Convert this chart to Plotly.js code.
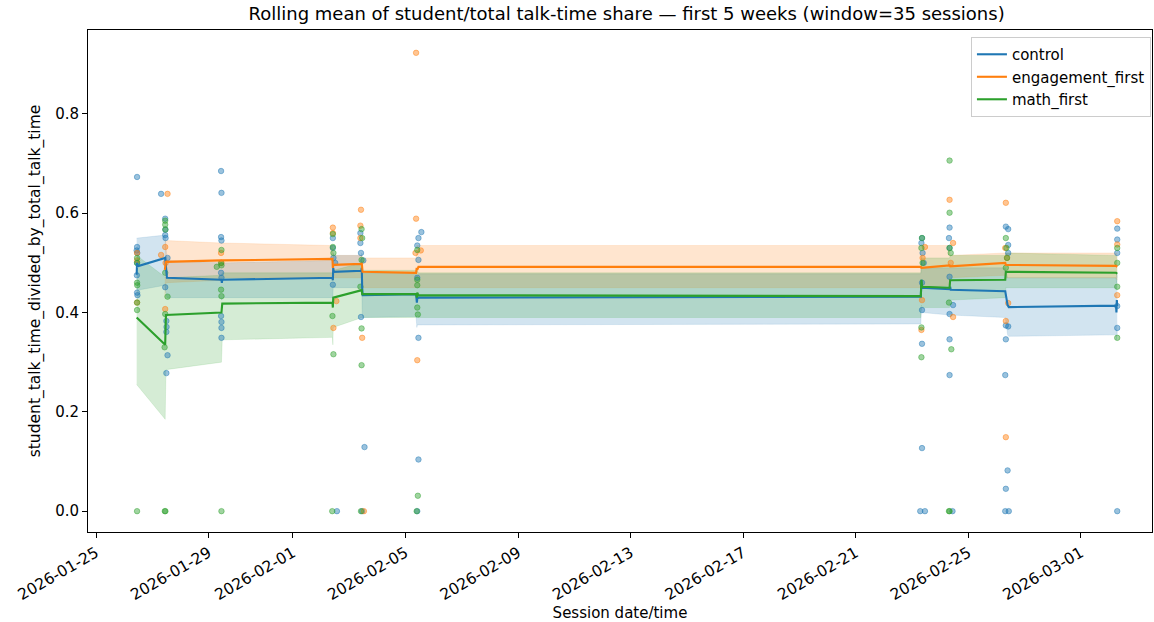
<!DOCTYPE html>
<html>
<head>
<meta charset="utf-8">
<script src="https://cdn.plot.ly/plotly-3.0.1.min.js"></script>
<style>html,body{margin:0;padding:0;background:#fff;}#chart{width:1154px;height:622px;}</style>
</head>
<body>
<div id="chart"></div>
<script>
// ---------------- data ----------------
const groups = ['control', 'engagement_first', 'math_first'];
const colors = ['#1f77b4', '#ff7f0e', '#2ca02c'];
const bandColors = ['rgba(31,119,180,0.2)', 'rgba(255,127,14,0.2)', 'rgba(44,160,44,0.2)'];
const pointColors = ['rgba(31,119,180,0.45)', 'rgba(255,127,14,0.45)', 'rgba(44,160,44,0.45)'];

const xTickVals = ['2026-01-25','2026-01-29','2026-02-01','2026-02-05','2026-02-09','2026-02-13','2026-02-17','2026-02-21','2026-02-25','2026-03-01'];
const yTickVals = [0.0, 0.2, 0.4, 0.6, 0.8];

// rolling mean (window=35) + band, control
const ctrlLineT = ['2026-01-26 10:40','2026-01-26 11:00','2026-01-26 11:20','2026-01-27 11:00','2026-01-27 11:30','2026-01-27 12:00','2026-01-27 12:30','2026-01-29 11:00','2026-01-29 11:20','2026-01-29 11:40','2026-02-02 09:40','2026-02-02 10:00','2026-02-02 10:20','2026-02-02 10:50','2026-02-03 10:20','2026-02-03 10:40','2026-02-03 11:00','2026-02-03 11:30','2026-02-05 09:00','2026-02-05 09:40','2026-02-05 10:00','2026-02-05 11:00','2026-02-23 07:30','2026-02-23 08:00','2026-02-23 08:30','2026-02-24 08:00','2026-02-24 08:30','2026-02-24 09:00','2026-02-26 07:30','2026-02-26 08:30','2026-02-26 09:30','2026-02-26 10:30','2026-03-02 06:00','2026-03-02 06:20','2026-03-02 06:40','2026-03-02 07:00'];
const ctrlMean = [0.476,0.500,0.493,0.510,0.490,0.472,0.470,0.466,0.460,0.466,0.470,0.465,0.490,0.482,0.484,0.490,0.450,0.435,0.437,0.420,0.428,0.430,0.432,0.466,0.450,0.447,0.452,0.446,0.443,0.430,0.415,0.411,0.414,0.400,0.425,0.413];
const ctrlLo   = [0.445,0.450,0.445,0.455,0.440,0.430,0.430,0.430,0.425,0.430,0.430,0.430,0.455,0.450,0.450,0.455,0.400,0.390,0.392,0.370,0.375,0.375,0.377,0.410,0.400,0.395,0.400,0.395,0.390,0.375,0.355,0.352,0.355,0.345,0.365,0.355];
const ctrlHi   = [0.550,0.550,0.550,0.556,0.530,0.505,0.505,0.500,0.500,0.500,0.505,0.500,0.520,0.515,0.515,0.520,0.490,0.480,0.480,0.470,0.475,0.478,0.478,0.510,0.490,0.490,0.490,0.490,0.490,0.480,0.470,0.470,0.470,0.460,0.480,0.470];

// engagement_first
const engLineT = ['2026-01-27 10:40','2026-01-27 11:00','2026-01-27 11:40','2026-01-29 11:00','2026-01-29 11:40','2026-02-02 09:40','2026-02-02 10:00','2026-02-02 10:30','2026-02-03 10:20','2026-02-03 10:40','2026-02-03 11:20','2026-02-05 09:00','2026-02-05 09:30','2026-02-05 10:00','2026-02-05 11:00','2026-02-23 07:30','2026-02-23 08:00','2026-02-24 08:00','2026-02-24 08:30','2026-02-26 07:30','2026-02-26 08:00','2026-03-02 06:00','2026-03-02 07:00'];
const engMean = [0.486,0.500,0.502,0.505,0.505,0.508,0.490,0.496,0.498,0.500,0.482,0.480,0.490,0.486,0.492,0.492,0.490,0.495,0.493,0.500,0.496,0.494,0.492];
const engLo   = [0.430,0.455,0.460,0.465,0.470,0.470,0.465,0.470,0.470,0.470,0.450,0.450,0.450,0.450,0.450,0.450,0.450,0.455,0.470,0.475,0.470,0.470,0.465];
const engHi   = [0.545,0.545,0.545,0.540,0.540,0.535,0.515,0.515,0.515,0.515,0.510,0.510,0.535,0.535,0.535,0.535,0.535,0.535,0.515,0.520,0.520,0.520,0.520];

// math_first
const mathLineT = ['2026-01-26 10:40','2026-01-27 11:00','2026-01-27 11:20','2026-01-27 11:40','2026-01-29 11:00','2026-01-29 11:20','2026-01-29 11:40','2026-02-02 09:40','2026-02-02 10:00','2026-02-02 10:20','2026-02-03 10:40','2026-02-03 11:00','2026-02-05 09:00','2026-02-05 09:40','2026-02-05 10:00','2026-02-05 11:00','2026-02-23 07:30','2026-02-23 08:00','2026-02-23 08:30','2026-02-24 08:00','2026-02-24 08:30','2026-02-26 07:30','2026-02-26 08:00','2026-03-02 06:00','2026-03-02 07:00'];
const mathMean = [0.390,0.335,0.370,0.395,0.400,0.410,0.418,0.420,0.410,0.430,0.445,0.437,0.437,0.430,0.440,0.435,0.433,0.466,0.452,0.450,0.465,0.466,0.482,0.480,0.478];
const mathLo   = [0.255,0.185,0.240,0.285,0.300,0.330,0.345,0.350,0.335,0.370,0.390,0.390,0.390,0.390,0.395,0.390,0.390,0.415,0.410,0.410,0.425,0.430,0.450,0.450,0.445];
const mathHi   = [0.515,0.470,0.470,0.470,0.475,0.480,0.480,0.480,0.475,0.485,0.500,0.485,0.485,0.480,0.485,0.480,0.480,0.515,0.510,0.510,0.515,0.515,0.520,0.515,0.515];

// individual sessions
const ctrlPtT = ['2026-01-26 11:00','2026-01-26 11:00','2026-01-26 10:40','2026-01-26 11:10','2026-01-26 11:00','2026-01-26 10:50','2026-01-26 11:00','2026-01-26 11:20',
 '2026-01-27 07:30','2026-01-27 11:00','2026-01-27 11:10','2026-01-27 11:00','2026-01-27 11:20','2026-01-27 13:00','2026-01-27 11:00','2026-01-27 12:00','2026-01-27 12:10','2026-01-27 12:00','2026-01-27 13:00','2026-01-27 12:00',
 '2026-01-29 10:40','2026-01-29 11:00','2026-01-29 10:40','2026-01-29 11:00','2026-01-29 10:40','2026-01-29 11:00','2026-01-29 10:40','2026-01-29 11:00','2026-01-29 11:00','2026-01-29 11:00',
 '2026-02-02 10:00','2026-02-02 10:00','2026-02-02 10:30','2026-02-02 12:00','2026-02-02 10:00','2026-02-02 13:30',
 '2026-02-03 09:30','2026-02-03 09:30','2026-02-03 10:00','2026-02-03 12:00','2026-02-03 10:00','2026-02-03 13:00','2026-02-03 11:00',
 '2026-02-05 13:30','2026-02-05 11:00','2026-02-05 10:00','2026-02-05 11:00','2026-02-05 10:00','2026-02-05 11:00','2026-02-05 11:00','2026-02-05 10:00',
 '2026-02-23 08:30','2026-02-23 08:00','2026-02-23 09:00','2026-02-23 10:00','2026-02-23 08:30','2026-02-23 08:30','2026-02-23 08:30','2026-02-23 08:30','2026-02-23 07:00','2026-02-23 11:00',
 '2026-02-24 08:00','2026-02-24 07:30','2026-02-24 08:00','2026-02-24 08:00','2026-02-24 11:00','2026-02-24 08:00','2026-02-24 08:00','2026-02-24 08:00','2026-02-24 10:30',
 '2026-02-26 08:00','2026-02-26 10:00','2026-02-26 10:00','2026-02-26 10:00','2026-02-26 08:00','2026-02-26 10:00','2026-02-26 08:00','2026-02-26 07:30','2026-02-26 09:30','2026-02-26 08:00','2026-02-26 07:30','2026-02-26 10:30',
 '2026-03-02 07:00','2026-03-02 07:00','2026-03-02 07:00','2026-03-02 07:00','2026-03-02 07:00','2026-03-02 07:00'];
const ctrlPtV = [0.673,0.532,0.525,0.520,0.500,0.475,0.440,0.435,
 0.639,0.589,0.567,0.556,0.550,0.510,0.451,0.383,0.371,0.361,0.314,0.278,
 0.685,0.641,0.552,0.545,0.480,0.470,0.393,0.381,0.369,0.349,
 0.550,0.530,0.510,0.500,0.456,0.000,
 0.560,0.540,0.520,0.505,0.391,0.129,0.000,
 0.562,0.550,0.535,0.506,0.470,0.349,0.104,0.000,
 0.550,0.540,0.520,0.500,0.460,0.405,0.337,0.127,0.000,0.000,
 0.571,0.550,0.530,0.472,0.415,0.397,0.346,0.274,0.000,
 0.573,0.568,0.536,0.520,0.374,0.372,0.346,0.274,0.082,0.045,0.000,0.000,
 0.569,0.547,0.520,0.413,0.369,0.000];

const engPtT = ['2026-01-26 11:00','2026-01-26 11:00','2026-01-26 11:00',
 '2026-01-27 13:00','2026-01-27 11:00','2026-01-27 07:30','2026-01-27 11:00','2026-01-27 11:20',
 '2026-01-29 10:40','2026-01-29 11:00',
 '2026-02-02 10:00','2026-02-02 10:00','2026-02-02 13:00','2026-02-02 10:30',
 '2026-02-03 10:00','2026-02-03 09:30','2026-02-03 09:30','2026-02-03 11:00','2026-02-03 12:30',
 '2026-02-05 09:00','2026-02-05 09:00','2026-02-05 13:00','2026-02-05 08:30','2026-02-05 10:00',
 '2026-02-23 11:00','2026-02-23 08:30','2026-02-23 08:00','2026-02-23 09:00',
 '2026-02-24 08:00','2026-02-24 11:00','2026-02-24 11:00','2026-02-24 09:00',
 '2026-02-26 08:00','2026-02-26 07:30','2026-02-26 09:00','2026-02-26 10:00','2026-02-26 08:00','2026-02-26 08:00',
 '2026-03-02 07:00','2026-03-02 07:00','2026-03-02 07:00'];
const engPtV = [0.520,0.505,0.420,
 0.639,0.532,0.516,0.407,0.500,
 0.520,0.500,
 0.571,0.560,0.423,0.369,
 0.607,0.575,0.550,0.349,0.000,
 0.923,0.589,0.525,0.520,0.304,
 0.532,0.425,0.365,0.510,
 0.627,0.540,0.391,0.500,
 0.621,0.530,0.510,0.419,0.383,0.149,
 0.584,0.537,0.435];

const mathPtT = ['2026-01-26 11:00','2026-01-26 11:00','2026-01-26 11:00','2026-01-26 11:10','2026-01-26 11:00','2026-01-26 11:00','2026-01-26 11:00',
 '2026-01-27 11:00','2026-01-27 11:00','2026-01-27 11:10','2026-01-27 11:00','2026-01-27 13:00','2026-01-27 11:00','2026-01-27 10:30','2026-01-27 10:40','2026-01-27 11:10',
 '2026-01-29 11:00','2026-01-29 10:40','2026-01-29 07:00','2026-01-29 11:00','2026-01-29 10:40','2026-01-29 11:00','2026-01-29 11:00',
 '2026-02-02 10:00','2026-02-02 10:00','2026-02-02 10:30','2026-02-02 09:40','2026-02-02 10:30','2026-02-02 09:30',
 '2026-02-03 10:30','2026-02-03 11:00','2026-02-03 10:30','2026-02-03 09:30','2026-02-03 10:30','2026-02-03 10:30','2026-02-03 10:00',
 '2026-02-05 10:00','2026-02-05 10:00','2026-02-05 10:00','2026-02-05 10:00','2026-02-05 10:30','2026-02-05 10:30','2026-02-05 09:30',
 '2026-02-23 08:30','2026-02-23 08:00','2026-02-23 09:00','2026-02-23 08:00','2026-02-23 08:00',
 '2026-02-24 08:00','2026-02-24 08:00','2026-02-24 08:00','2026-02-24 09:00','2026-02-24 07:30','2026-02-24 09:30','2026-02-24 07:30','2026-02-24 08:00',
 '2026-02-26 08:00','2026-02-26 08:30','2026-02-26 09:00','2026-02-26 08:00',
 '2026-03-02 07:00','2026-03-02 07:00','2026-03-02 07:00','2026-03-02 07:00'];
const mathPtV = [0.510,0.500,0.460,0.455,0.420,0.405,0.000,
 0.585,0.577,0.567,0.480,0.432,0.397,0.330,0.000,0.000,
 0.526,0.500,0.492,0.495,0.446,0.433,0.000,
 0.558,0.532,0.520,0.393,0.316,0.000,
 0.568,0.550,0.506,0.452,0.368,0.294,0.000,
 0.526,0.466,0.455,0.410,0.396,0.031,0.000,
 0.550,0.530,0.500,0.370,0.310,
 0.706,0.601,0.530,0.520,0.420,0.326,0.000,0.000,
 0.550,0.530,0.510,0.490,
 0.530,0.500,0.452,0.349];

// ---------------- traces ----------------
const lineT = [ctrlLineT, engLineT, mathLineT];
const means = [ctrlMean, engMean, mathMean];
const los = [ctrlLo, engLo, mathLo];
const his = [ctrlHi, engHi, mathHi];
const ptT = [ctrlPtT, engPtT, mathPtT];
const ptV = [ctrlPtV, engPtV, mathPtV];

const traces = [];
for (let i = 0; i < 3; i++) {
  traces.push({x: lineT[i], y: los[i], type: 'scatter', mode: 'lines',
    line: {width: 0.6, color: bandColors[i]}, showlegend: false, hoverinfo: 'skip'});
  traces.push({x: lineT[i], y: his[i], type: 'scatter', mode: 'lines', fill: 'tonexty',
    fillcolor: bandColors[i], line: {width: 0.6, color: bandColors[i]}, showlegend: false, hoverinfo: 'skip'});
}
for (let i = 0; i < 3; i++) {
  traces.push({x: ptT[i], y: ptV[i], type: 'scatter', mode: 'markers',
    marker: {size: 5.5, color: pointColors[i], line: {width: 1, color: pointColors[i]}},
    showlegend: false});
}
for (let i = 0; i < 3; i++) {
  traces.push({x: lineT[i], y: means[i], type: 'scatter', mode: 'lines', name: groups[i],
    line: {width: 2.1, color: colors[i]}});
}

const font = 'DejaVu Sans, sans-serif';
const layout = {
  width: 1154, height: 622,
  margin: {l: 88, r: 2, t: 30, b: 90},
  paper_bgcolor: '#fff', plot_bgcolor: '#fff',
  font: {family: font, size: 15, color: '#000'},
  title: {text: 'Rolling mean of student/total talk-time share — first 5 weeks (window=35 sessions)',
    font: {family: font, size: 18, color: '#000'}, x: 0.543, xanchor: 'center', y: 0.988, yanchor: 'top'},
  xaxis: {
    type: 'date', range: ['2026-01-24 17:10', '2026-03-03 12:40'],
    tickmode: 'array', tickvals: xTickVals, ticktext: xTickVals, tickangle: -30,
    ticks: 'outside', ticklen: 5, tickcolor: '#000', showgrid: false, zeroline: false,
    showline: true, mirror: true, linecolor: '#000', linewidth: 1,
    tickfont: {family: font, size: 15.5},
    title: {text: 'Session date/time', font: {family: font, size: 15}, standoff: 6}
  },
  yaxis: {
    range: [-0.042, 0.969], tickmode: 'array', tickvals: yTickVals,
    ticktext: yTickVals.map(v => v.toFixed(1)),
    ticks: 'outside', ticklen: 5, tickcolor: '#000', showgrid: false, zeroline: false,
    showline: true, mirror: true, linecolor: '#000', linewidth: 1,
    tickfont: {family: font, size: 15},
    title: {text: 'student_talk_time_divided_by_total_talk_time', font: {family: font, size: 15.5}, standoff: 10}
  },
  legend: {x: 0.999, y: 0.986, xanchor: 'right', yanchor: 'top', traceorder: 'normal',
    bgcolor: 'rgba(255,255,255,0.8)', bordercolor: '#cccccc', borderwidth: 1,
    font: {family: font, size: 15}, tracegroupgap: 0},
  showlegend: true
};

Plotly.newPlot('chart', traces, layout, {displayModeBar: false, staticPlot: true});
</script>
</body>
</html>
